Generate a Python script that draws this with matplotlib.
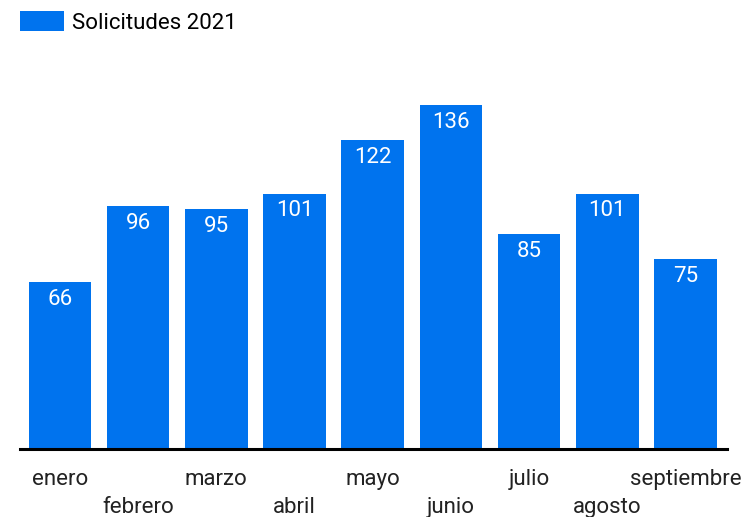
import matplotlib.pyplot as plt
import matplotlib.transforms as mtransforms

plt.rcParams['font.family'] = ['Roboto', 'DejaVu Sans']

# -- data ----------------------------------------------------------------------

meses = ['enero', 'febrero', 'marzo', 'abril', 'mayo', 'junio', 'julio',
         'agosto', 'septiembre']
solicitudes = [66, 96, 95, 101, 122, 136, 85, 101, 75]
serie = 'Solicitudes 2021'

color = '#0073ee'
fs = 16

# -- plot ----------------------------------------------------------------------

fig = plt.figure(figsize=(7.44, 5.17), dpi=100)
W, H = 744, 517
ax = fig.add_axes([20 / W, 1 - 449 / H, 707 / W, (449 - 60) / H])

x = list(range(len(meses)))
bars = ax.bar(x, solicitudes, width=0.8, color=color, label=serie)

for b, v in zip(bars, solicitudes):
  ax.annotate(str(v), (b.get_x() + b.get_width() / 2, v),
              xytext=(0, -12.5), textcoords='offset points',
              ha='center', va='center', color='white', fontsize=fs)

ax.set_xlim(-0.51, 8.53)
ax.set_ylim(0, (449 - 60) / (344 / 136))

for s in ['top', 'right', 'left']:
  ax.spines[s].set_visible(False)
ax.spines['bottom'].set_linewidth(2.2)
ax.spines['bottom'].set_color('black')
ax.set_yticks([])
ax.set_xticks(x)
ax.set_xticklabels(meses, fontsize=fs, color='#222222')
ax.tick_params(axis='x', length=0, pad=14.5)

# stagger the odd labels one row down
shift = mtransforms.ScaledTranslation(0, -28 / 100, fig.dpi_scale_trans)
for i, lab in enumerate(ax.get_xticklabels()):
  if i % 2 == 1:
    lab.set_transform(lab.get_transform() + shift)

fig.legend(loc='upper left', bbox_to_anchor=(20 / W, 1 - 11 / H),
           frameon=False, fontsize=fs, handlelength=2.0, handleheight=1.0,
           handletextpad=0.36, borderpad=0, borderaxespad=0)

plt.savefig('out.png', dpi=100)
